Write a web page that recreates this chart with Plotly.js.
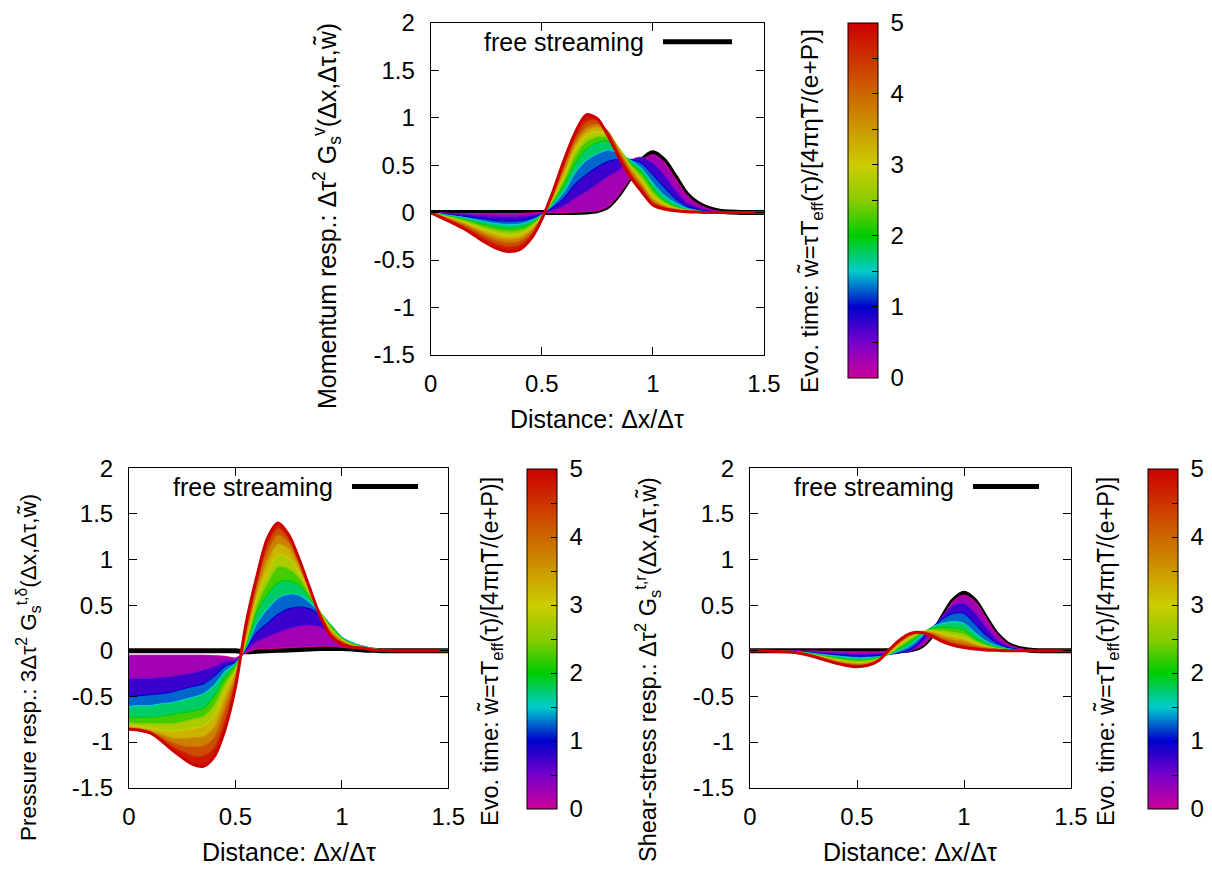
<!DOCTYPE html>
<html><head><meta charset="utf-8">
<script src="https://cdn.plot.ly/plotly-3.0.1.min.js"></script>
<style>html,body{margin:0;padding:0;background:#fff}#chart{width:1212px;height:869px}</style>
</head><body><div id="chart"></div>
<script>
// ---------- data ----------
const xGrid = [0,0.05,0.1,0.15,0.2,0.25,0.3,0.35,0.4,0.45,0.5,0.55,0.6,0.65,0.7,0.75,0.8,0.85,0.9,0.95,1,1.05,1.1,1.15,1.2,1.25,1.3,1.35,1.4,1.45,1.5];
const wValues = [0,0.5,1,1.5,2,2.5,3,3.5,4,4.5,5];
const xTickVals = [0,0.5,1,1.5];
const xTickText = ['0','0.5','1','1.5'];
const yTickVals = [-1.5,-1,-0.5,0,0.5,1,1.5,2];
const yTickText = ['-1.5','-1','-0.5','0','0.5','1','1.5','2'];
const cbTickVals = [0,0.5,1,1.5,2,2.5,3,3.5,4,4.5,5];
const cbTickText = ['0','','1','','2','','3','','4','','5'];

// Momentum response
const momFree = [0,0,0,0,0,0,0,0,0,0,0,0,0,0,0.005,0.02,0.07,0.2,0.38,0.55,0.63,0.55,0.38,0.2,0.1,0.045,0.015,0.005,0,0,0];
const momW0  = [0,-0.005,-0.01,-0.01,-0.01,-0.01,-0.01,-0.01,-0.01,-0.005,0,0,0,0.005,0.01,0.02,0.07,0.2,0.37,0.54,0.61,0.53,0.36,0.19,0.09,0.04,0.012,0,0,0,0];
const momW05 = [0,-0.006,-0.012,-0.019,-0.027,-0.035,-0.042,-0.045,-0.043,-0.031,-0.008,0.025,0.07,0.15,0.22,0.3,0.38,0.45,0.55,0.58,0.52,0.4,0.24,0.11,0.06,0.025,0.008,0,0,0,0];
const momW1  = [0,-0.012,-0.024,-0.037,-0.054,-0.07,-0.084,-0.09,-0.086,-0.062,-0.015,0.055,0.15,0.3,0.4,0.48,0.54,0.56,0.56,0.52,0.4,0.27,0.15,0.07,0.035,0.014,0.005,0,0,0,0];
const momW15 = [0,-0.017,-0.034,-0.053,-0.076,-0.099,-0.118,-0.127,-0.121,-0.087,-0.022,0.085,0.22,0.42,0.55,0.62,0.66,0.62,0.55,0.46,0.31,0.18,0.1,0.045,0.022,0.009,0.002,0,0,0,0];
const momW2  = [0,-0.023,-0.045,-0.07,-0.1,-0.131,-0.156,-0.168,-0.16,-0.115,-0.029,0.11,0.29,0.52,0.67,0.74,0.75,0.66,0.52,0.42,0.25,0.13,0.07,0.035,0.016,0.006,0.002,0,0,0,0];
const momW25 = [0,-0.028,-0.055,-0.085,-0.123,-0.16,-0.19,-0.205,-0.195,-0.14,-0.035,0.13,0.34,0.6,0.75,0.8,0.79,0.67,0.5,0.37,0.21,0.11,0.055,0.028,0.013,0.005,0.002,0,0,0,0];
const momW3  = [0,-0.032,-0.065,-0.1,-0.145,-0.189,-0.224,-0.242,-0.23,-0.165,-0.041,0.15,0.39,0.66,0.81,0.85,0.82,0.67,0.48,0.34,0.17,0.09,0.045,0.022,0.011,0.004,0.002,0,0,0,0];
const momW35 = [0,-0.037,-0.075,-0.116,-0.167,-0.218,-0.258,-0.279,-0.265,-0.19,-0.048,0.165,0.43,0.71,0.86,0.9,0.84,0.65,0.46,0.3,0.14,0.075,0.04,0.02,0.01,0.003,0.001,0,0,0,0];
const momW4  = [0,-0.042,-0.085,-0.131,-0.189,-0.246,-0.293,-0.316,-0.3,-0.216,-0.054,0.18,0.47,0.75,0.9,0.93,0.85,0.63,0.43,0.28,0.12,0.06,0.03,0.015,0.008,0.002,0.001,0,0,0,0];
const momW45 = [0,-0.048,-0.096,-0.148,-0.213,-0.278,-0.331,-0.357,-0.339,-0.244,-0.061,0.2,0.51,0.79,0.96,0.97,0.83,0.6,0.4,0.25,0.1,0.05,0.025,0.012,0.006,0.001,0,0,0,0,0];
const momW5  = [0,-0.055,-0.11,-0.17,-0.245,-0.32,-0.38,-0.41,-0.39,-0.28,-0.07,0.22,0.55,0.84,1.03,0.99,0.8,0.57,0.37,0.22,0.08,0.037,0.02,0.01,0.005,0,0,0,0,0,0];

// Pressure response
const presFree = [0,0,0,0,0,0,0,0,0,0,0,-0.01,-0.005,0,0.005,0.01,0.015,0.02,0.025,0.025,0.025,0.02,0.01,0.005,0,0,0,0,0,0,0];
const presW0  = [-0.05,-0.05,-0.05,-0.05,-0.05,-0.05,-0.05,-0.05,-0.055,-0.06,-0.08,-0.02,0.02,0.025,0.03,0.035,0.04,0.045,0.05,0.05,0.04,0.03,0.02,0.01,0.005,0,0,0,0,0,0];
const presW05 = [-0.3,-0.3,-0.3,-0.29,-0.28,-0.26,-0.24,-0.21,-0.17,-0.12,-0.1,0,0.1,0.15,0.2,0.24,0.27,0.28,0.26,0.18,0.1,0.06,0.04,0.02,0.01,0,0,0,0,0,0];
const presW1  = [-0.5,-0.49,-0.48,-0.47,-0.45,-0.42,-0.39,-0.36,-0.28,-0.17,-0.12,0.02,0.2,0.3,0.4,0.46,0.48,0.46,0.38,0.26,0.14,0.08,0.05,0.025,0.01,0,0,0,0,0,0];
const presW15 = [-0.61,-0.6,-0.6,-0.58,-0.57,-0.54,-0.51,-0.47,-0.38,-0.23,-0.14,0.04,0.3,0.46,0.58,0.62,0.61,0.53,0.41,0.28,0.15,0.09,0.05,0.025,0.01,0,0,0,0,0,0];
const presW2  = [-0.73,-0.73,-0.73,-0.72,-0.7,-0.68,-0.66,-0.63,-0.5,-0.3,-0.16,0.06,0.42,0.62,0.75,0.77,0.72,0.58,0.42,0.27,0.14,0.08,0.045,0.02,0.01,0,0,0,0,0,0];
const presW25 = [-0.79,-0.8,-0.8,-0.8,-0.8,-0.78,-0.75,-0.72,-0.6,-0.37,-0.19,0.09,0.5,0.74,0.92,0.9,0.8,0.61,0.415,0.25,0.13,0.07,0.04,0.02,0.008,0,0,0,0,0,0];
const presW3  = [-0.82,-0.83,-0.85,-0.87,-0.88,-0.87,-0.85,-0.82,-0.72,-0.45,-0.22,0.12,0.58,0.86,1.06,1.02,0.86,0.63,0.41,0.23,0.12,0.06,0.035,0.015,0.006,0,0,0,0,0,0];
const presW35 = [-0.84,-0.85,-0.88,-0.91,-0.95,-0.96,-0.95,-0.94,-0.84,-0.55,-0.26,0.16,0.64,0.98,1.17,1.12,0.91,0.65,0.4,0.21,0.11,0.055,0.033,0.013,0.005,0,0,0,0,0,0];
const presW4  = [-0.85,-0.86,-0.89,-0.94,-1,-1.04,-1.05,-1.04,-0.95,-0.65,-0.3,0.2,0.7,1.08,1.27,1.19,0.95,0.67,0.39,0.19,0.1,0.05,0.032,0.012,0.005,0,0,0,0,0,0];
const presW45 = [-0.855,-0.865,-0.9,-0.96,-1.04,-1.1,-1.15,-1.15,-1.06,-0.77,-0.35,0.25,0.76,1.16,1.34,1.23,0.98,0.68,0.385,0.17,0.09,0.045,0.031,0.011,0.005,0,0,0,0,0,0];
const presW5  = [-0.86,-0.87,-0.9,-0.98,-1.08,-1.17,-1.245,-1.265,-1.16,-0.87,-0.4,0.3,0.81,1.23,1.4,1.27,1,0.68,0.37,0.16,0.07,0.04,0.03,0.01,0.005,0,0,0,0,0,0];

// Shear-stress response
const shearFree = [0,0,0,0,0,0,0,0,0,0,0,0,0,0,0,0.01,0.05,0.17,0.37,0.55,0.63,0.55,0.37,0.19,0.08,0.03,0.01,0,0,0,0];
const shearW0  = [0,0,0,0,-0.001,-0.002,-0.004,-0.006,-0.008,-0.01,-0.01,-0.01,-0.01,-0.005,0,0.01,0.05,0.17,0.36,0.54,0.61,0.54,0.37,0.19,0.08,0.03,0.01,0,0,0,0];
const shearW05 = [0,0,0,-0.001,-0.003,-0.007,-0.013,-0.02,-0.025,-0.03,-0.035,-0.035,-0.03,-0.025,-0.02,0,0.08,0.22,0.38,0.5,0.52,0.42,0.27,0.13,0.055,0.02,0.007,0,0,0,0];
const shearW1  = [0,0,-0.001,-0.002,-0.005,-0.012,-0.022,-0.032,-0.042,-0.05,-0.057,-0.055,-0.05,-0.04,-0.02,0.02,0.12,0.25,0.35,0.41,0.41,0.3,0.18,0.09,0.04,0.015,0.005,0,0,0,0];
const shearW15 = [0,0,-0.001,-0.003,-0.007,-0.017,-0.03,-0.045,-0.058,-0.07,-0.08,-0.075,-0.065,-0.04,0,0.06,0.16,0.26,0.3,0.32,0.3,0.2,0.11,0.055,0.025,0.01,0,0,0,0,0];
const shearW2  = [0,0,-0.002,-0.004,-0.009,-0.021,-0.038,-0.057,-0.075,-0.09,-0.1,-0.095,-0.075,-0.035,0.03,0.1,0.19,0.25,0.26,0.25,0.23,0.14,0.08,0.04,0.018,0.007,0,0,0,0,0];
const shearW25 = [0,0,-0.002,-0.005,-0.01,-0.025,-0.045,-0.066,-0.088,-0.105,-0.115,-0.11,-0.085,-0.03,0.05,0.13,0.2,0.23,0.22,0.2,0.18,0.11,0.06,0.03,0.013,0.005,0,0,0,0,0];
const shearW3  = [0,0,-0.003,-0.006,-0.012,-0.028,-0.05,-0.075,-0.1,-0.12,-0.13,-0.125,-0.09,-0.02,0.07,0.15,0.21,0.22,0.19,0.16,0.14,0.09,0.05,0.025,0.01,0.004,0,0,0,0,0];
const shearW35 = [0,0,-0.003,-0.007,-0.013,-0.03,-0.055,-0.082,-0.11,-0.13,-0.14,-0.135,-0.095,-0.01,0.085,0.165,0.21,0.2,0.16,0.13,0.11,0.07,0.04,0.02,0.008,0.003,0,0,0,0,0];
const shearW4  = [0,0,-0.004,-0.008,-0.014,-0.032,-0.058,-0.088,-0.118,-0.14,-0.15,-0.145,-0.1,0,0.1,0.175,0.21,0.19,0.14,0.1,0.08,0.05,0.03,0.015,0.006,0.002,0,0,0,0,0];
const shearW45 = [0,0,-0.004,-0.009,-0.015,-0.034,-0.062,-0.094,-0.127,-0.15,-0.162,-0.152,-0.105,0.005,0.11,0.185,0.205,0.175,0.12,0.08,0.055,0.035,0.02,0.01,0.004,0,0,0,0,0,0];
const shearW5  = [0,0,-0.005,-0.01,-0.015,-0.035,-0.065,-0.1,-0.135,-0.16,-0.174,-0.16,-0.11,0.01,0.12,0.19,0.2,0.16,0.1,0.06,0.035,0.02,0.01,0.005,0,0,0,0,0,0,0];

// ---------- style ----------
const FONT = 'Liberation Sans, Arial, Helvetica, sans-serif';
const FS = 24;
const cscale = [[0,'#cc0099'],[0.1,'#7700cc'],[0.2,'#0000cc'],[0.3,'#00cccc'],[0.4,'#00cc00'],[0.5,'#88cc00'],[0.6,'#cccc00'],[0.8,'#cc6600'],[1,'#cc0000']];
function hexRgb(h){return [parseInt(h.slice(1,3),16),parseInt(h.slice(3,5),16),parseInt(h.slice(5,7),16)];}
function colorAt(t){
  for(let i=1;i<cscale.length;i++){
    if(t<=cscale[i][0]){
      const a=cscale[i-1],b=cscale[i];
      const f=(t-a[0])/(b[0]-a[0]);
      const ca=hexRgb(a[1]),cb=hexRgb(b[1]);
      return 'rgb('+ca.map((v,k)=>Math.round(v+(cb[k]-v)*f)).join(',')+')';
    }
  }
  return cscale[cscale.length-1][1];
}

const traces = [];
function addPanel(xa, ya, free, curves){
  traces.push({x:xGrid,y:free,xaxis:xa,yaxis:ya,mode:'lines',
    line:{color:'#000',width:5,shape:'spline',smoothing:0.8},showlegend:false,hoverinfo:'skip'});
  curves.forEach((c,i)=>{
    const w = wValues[i];
    const last = i===curves.length-1;
    const t = {x:xGrid,y:c,xaxis:xa,yaxis:ya,mode:'lines',
      line:{color:colorAt(w/5),width:last?3:1.2,shape:'spline',smoothing:0.8},
      showlegend:false,hoverinfo:'skip'};
    if(i>0){ t.fill='tonexty'; t.fillcolor=colorAt((wValues[i-1]+w)/10); }
    traces.push(t);
  });
}
addPanel('x','y',momFree,[momW0,momW05,momW1,momW15,momW2,momW25,momW3,momW35,momW4,momW45,momW5]);
addPanel('x2','y2',presFree,[presW0,presW05,presW1,presW15,presW2,presW25,presW3,presW35,presW4,presW45,presW5]);
addPanel('x3','y3',shearFree,[shearW0,shearW05,shearW1,shearW15,shearW2,shearW25,shearW3,shearW35,shearW4,shearW45,shearW5]);

const colorbars = [
  {xa:'x',ya:'y',left:848,top:22.7,bot:377.7},
  {xa:'x2',ya:'y2',left:527,top:469,bot:809},
  {xa:'x3',ya:'y3',left:1148,top:469,bot:809}
];
colorbars.forEach(cb=>{
  traces.push({x:[null],y:[null],xaxis:cb.xa,yaxis:cb.ya,mode:'markers',showlegend:false,hoverinfo:'skip',
    marker:{color:[0],colorscale:cscale,cmin:0,cmax:5,showscale:true,
      colorbar:{x:cb.left/1212,xanchor:'left',xpad:0,ypad:0,
        y:1-(cb.top+cb.bot)/2/869,yanchor:'middle',len:(cb.bot-cb.top)/869,lenmode:'fraction',
        thickness:30,thicknessmode:'pixels',outlinewidth:1,outlinecolor:'#000',
        tickvals:cbTickVals,ticktext:cbTickText.map(t=>t?'\u00a0'+t:''),ticks:'inside',ticklen:6,tickcolor:'#000',
        tickfont:{family:FONT,size:FS,color:'#000'},title:{text:''}}}});
});

function xAxis(d,anchor){
  return {domain:d,anchor:anchor,range:[0,1.5],tickmode:'array',tickvals:xTickVals,ticktext:xTickText,
    ticks:'inside',ticklen:8,tickcolor:'#000',showline:true,mirror:'ticks',linecolor:'#000',linewidth:1,
    showgrid:false,zeroline:false,tickfont:{family:FONT,size:FS,color:'#000'},ticklabelstandoff:7,fixedrange:true};
}
function yAxis(d,anchor){
  return {domain:d,anchor:anchor,range:[-1.5,2],tickmode:'array',tickvals:yTickVals,ticktext:yTickText,
    ticks:'inside',ticklen:8,tickcolor:'#000',showline:true,mirror:'ticks',linecolor:'#000',linewidth:1,
    showgrid:false,zeroline:false,tickfont:{family:FONT,size:FS,color:'#000'},ticklabelstandoff:10,fixedrange:true};
}
const px = v=>v/1212, py = v=>1-v/869;

const yTitleTop = 'Momentum resp.: Δτ<sup>2</sup> G<sub>s</sub><sup>v</sup>(Δx,Δτ,w̃)';
const yTitlePres = 'Pressure resp.: 3Δτ<sup>2</sup> G<sub>s</sub><sup>t,δ</sup>(Δx,Δτ,w̃)';
const yTitleShear = 'Shear-stress resp.: Δτ<sup>2</sup> G<sub>s</sub><sup>t,r</sup>(Δx,Δτ,w̃)';
const cbTitle = 'Evo. time: w̃=τT<sub>eff</sub>(τ)/[4πη̃T/(e+P)]';
const xTitle = 'Distance: Δx/Δτ';
const legendText = 'free streaming';

function ann(text,x,y,angle,xanchor,size){
  return {text:text,xref:'paper',yref:'paper',x:px(x),y:py(y),xanchor:xanchor||'center',yanchor:'middle',
    textangle:angle||0,showarrow:false,font:{family:FONT,size:size||FS,color:'#000'}};
}
const annotations = [
  ann(xTitle,597,419,0,'center',25), ann(xTitle,289,852,0,'center',25), ann(xTitle,910,852,0,'center',25),
  ann(yTitleTop,327,216,-90,'center',25), ann(yTitlePres,28,668,-90,'center',22.5), ann(yTitleShear,647,670,-90,'center',23.5),
  ann(cbTitle,811,211,-90,'center',24.5), ann(cbTitle,491,652,-90,'center',23.5), ann(cbTitle,1107,652,-90,'center',23.5),
  ann(legendText,646,41.7,0,'right',25), ann(legendText,335,486.7,0,'right',25), ann(legendText,956,486.7,0,'right',25)
];
function legLine(x0,x1,y){return {type:'line',xref:'paper',yref:'paper',x0:px(x0),x1:px(x1),y0:py(y),y1:py(y),line:{color:'#000',width:5}};}
const shapes = [legLine(663,732,41.7), legLine(352,418,486.5), legLine(973,1039,486.5)];
// left-edge ticks of the colour boxes (mirror ticks as in the reference)
colorbars.forEach(cb=>{
  cbTickVals.forEach(v=>{
    if(v===0||v===5) return;
    const yy = cb.bot-(cb.bot-cb.top)*v/5;
    shapes.push({type:'line',xref:'paper',yref:'paper',x0:px(cb.left),x1:px(cb.left+6),y0:py(yy),y1:py(yy),line:{color:'#000',width:1}});
  });
});

const layout = {
  width:1212,height:869,margin:{l:0,r:0,t:0,b:0,autoexpand:false},
  paper_bgcolor:'#fff',plot_bgcolor:'#fff',showlegend:false,
  xaxis:xAxis([px(430.7),px(764)],'y'), yaxis:yAxis([py(355),py(22.7)],'x'),
  xaxis2:xAxis([px(129),px(448.3)],'y2'), yaxis2:yAxis([py(787.7),py(468.3)],'x2'),
  xaxis3:xAxis([px(750),px(1071)],'y3'), yaxis3:yAxis([py(787.7),py(468.3)],'x3'),
  annotations:annotations, shapes:shapes
};
Plotly.newPlot('chart',traces,layout,{staticPlot:true,displayModeBar:false});
</script></body></html>
